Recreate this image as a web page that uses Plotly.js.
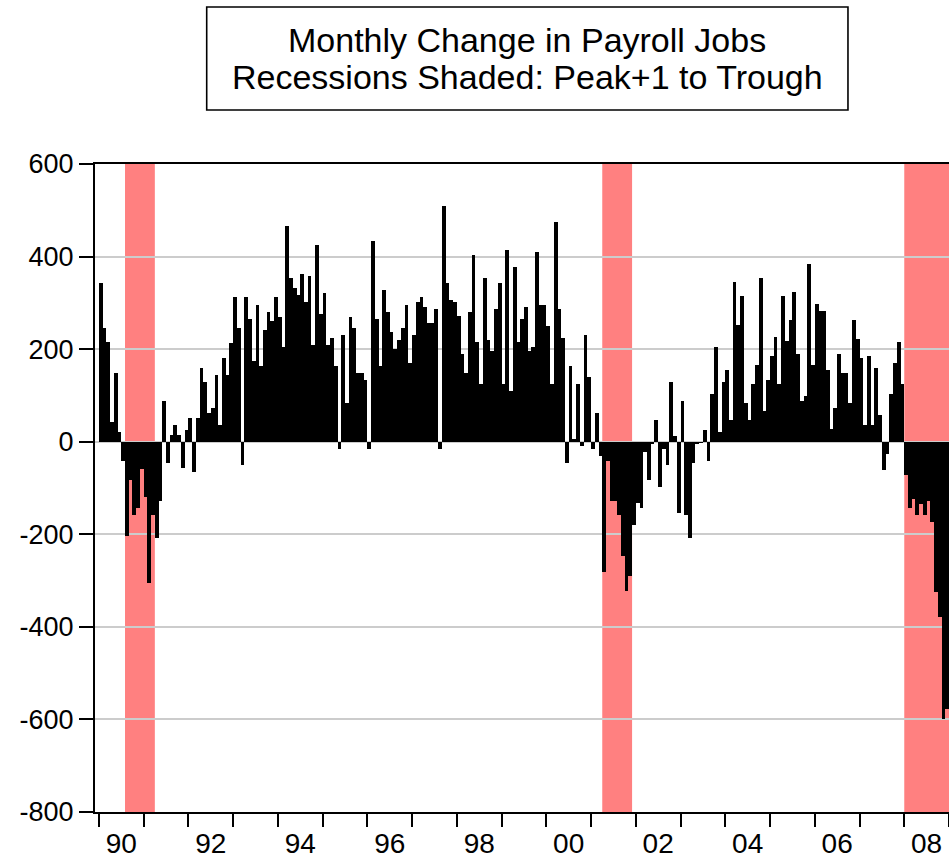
<!DOCTYPE html>
<html>
<head>
<meta charset="utf-8">
<script src="https://cdn.plot.ly/plotly-3.0.1.min.js"></script>
<style>
  html, body { margin: 0; padding: 0; background: #ffffff; }
  #chart { width: 949px; height: 859px; }
</style>
</head>
<body>
<div id="chart"></div>
<script>
// ---- Data (monthly change in payroll jobs, thousands), Jan 1990 .. Dec 2008 ----
const firstMonth = '1990-01';
const payrollChange = [
  // 1990
  342, 245, 216, 42, 148, 22, -41, -204, -83, -158, -144, -58,
  // 1991
  -119, -306, -158, -209, -127, 87, -46, 15, 36, 15, -57, 26,
  // 1992
  52, -66, 52, 159, 128, 62, 72, 144, 36, 180, 144, 214,
  // 1993
  312, 245, -50, 312, 266, 175, 296, 164, 241, 281, 261, 312,
  // 1994
  270, 205, 465, 353, 332, 317, 363, 301, 358, 209, 424, 276,
  // 1995
  322, 209, 225, 164, -16, 230, 83, 270, 245, 149, 149, 134,
  // 1996
  -16, 434, 266, 164, 327, 281, 236, 200, 220, 245, 296, 169,
  // 1997
  230, 301, 312, 291, 256, 256, 286, -16, 509, 342, 306, 301,
  // 1998
  271, 189, 149, 281, 403, 215, 124, 353, 220, 195, 286, 342,
  // 1999
  124, 414, 109, 378, 215, 266, 291, 195, 205, 409, 296, 296,
  // 2000
  250, 124, 475, 286, 225, -46, 164, 6, 124, -9, 230, 139,
  // 2001
  -16, 62, -30, -281, -41, -127, -127, -158, -246, -322, -291, -179,
  // 2002
  -133, -144, -23, -82, -5, 47, -97, -16, -50, 128, 12, -153,
  // 2003
  87, -158, -209, -46, -5, -2, 26, -41, 103, 205, 22, 128,
  // 2004
  154, 47, 344, 252, 314, 84, 47, 124, 165, 354, 67, 134,
  // 2005
  186, 227, 124, 314, 217, 262, 324, 190, 88, 98, 385, 165,
  // 2006
  298, 283, 283, 155, 27, 73, 190, 149, 149, 84, 262, 222,
  // 2007
  181, 37, 186, 37, 160, 57, -61, -26, 104, 170, 216, 124,
  // 2008
  -72, -144, -124, -159, -135, -159, -129, -174, -324, -379, -600, -578
];

// Recessions shaded: peak+1 month to trough month
const recessionStart = ['1990-08', '2001-04', '2008-01'];
const recessionEnd   = ['1991-03', '2001-11', '2008-12'];

// Axis ticks
const yTickValues = [-800, -600, -400, -200, 0, 200, 400, 600];
const yTickLabels = ['-800', '-600', '-400', '-200', '0', '200', '400', '600'];
const yearTickValues = [1990, 1991, 1992, 1993, 1994, 1995, 1996, 1997, 1998, 1999,
                        2000, 2001, 2002, 2003, 2004, 2005, 2006, 2007, 2008, 2009];
const yearLabelYears = [1990, 1992, 1994, 1996, 1998, 2000, 2002, 2004, 2006, 2008];
const yearLabels = ['90', '92', '94', '96', '98', '00', '02', '04', '06', '08'];

const titleLines = ['Monthly Change in Payroll Jobs', 'Recessions Shaded: Peak+1 to Trough'];

// ---- helpers ----
function monthToYearFrac(s) {           // 'YYYY-MM' -> start of month as fractional year
  const p = s.split('-');
  return Number(p[0]) + (Number(p[1]) - 1) / 12;
}
const start = monthToYearFrac(firstMonth);
const xCenters = payrollChange.map((v, i) => start + (i + 0.5) / 12);

const FONT = 'Liberation Sans, Arial, Helvetica, sans-serif';

const shapes = recessionStart.map((s, k) => ({
  type: 'rect', layer: 'below',
  xref: 'x', yref: 'paper',
  x0: monthToYearFrac(s), x1: monthToYearFrac(recessionEnd[k]) + 1 / 12,
  y0: 0, y1: 1,
  fillcolor: '#FF8080', line: { width: 0 }
}));
// title box
shapes.push({
  type: 'rect', xref: 'paper', yref: 'paper',
  x0: 0.1308, x1: 0.8817, y0: 1.0833, y1: 1.2423,
  line: { color: '#000000', width: 1.6 }, fillcolor: 'rgba(0,0,0,0)'
});

const annotations = [
  { text: titleLines[0], x: 0.5064, y: 1.1916 },
  { text: titleLines[1], x: 0.5064, y: 1.1349 }
].map(a => Object.assign(a, {
  xref: 'paper', yref: 'paper', xanchor: 'center', yanchor: 'middle',
  showarrow: false, font: { family: FONT, size: 34, color: '#000000' }
}));

const trace = {
  type: 'bar',
  x: xCenters,
  y: payrollChange,
  marker: { color: '#000000', line: { width: 0 } },
  hoverinfo: 'x+y'
};

const layout = {
  width: 949, height: 859,
  margin: { l: 95, r: 0, t: 164, b: 47, pad: 0 },
  paper_bgcolor: '#ffffff',
  plot_bgcolor: 'rgba(0,0,0,0)',
  showlegend: false,
  bargap: 0,
  font: { family: FONT, color: '#000000' },
  xaxis: {
    range: [start - 1.05 / 12, start + 228 / 12],
    tickmode: 'array',
    tickvals: yearLabelYears.map(y => y + 0.5),
    ticktext: yearLabels,
    ticks: 'outside', ticklen: 5, tickwidth: 2, tickcolor: 'rgba(0,0,0,0)',
    minor: {
      tickmode: 'array', tickvals: yearTickValues,
      ticks: 'outside', ticklen: 13, tickwidth: 2, tickcolor: '#000000', showgrid: false
    },
    tickfont: { family: FONT, size: 28, color: '#000000' },
    showgrid: false, zeroline: false,
    showline: true, linecolor: '#000000', linewidth: 2, mirror: true,
    fixedrange: true
  },
  yaxis: {
    range: [-800, 600],
    tickmode: 'array', tickvals: yTickValues, ticktext: yTickLabels,
    ticks: 'outside', ticklen: 14, tickwidth: 2, tickcolor: '#000000',
    tickfont: { family: FONT, size: 27, color: '#000000' },
    showgrid: true, gridcolor: '#cccccc', gridwidth: 2,
    zeroline: false,
    showline: true, linecolor: '#000000', linewidth: 2,
    fixedrange: true
  },
  shapes: shapes,
  annotations: annotations
};

Plotly.newPlot('chart', [trace], layout, { displayModeBar: false, staticPlot: true });
</script>
</body>
</html>
